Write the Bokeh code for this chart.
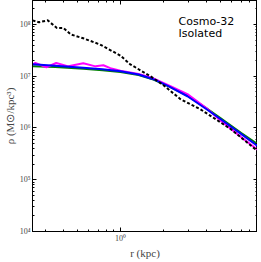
from bokeh.plotting import figure
from bokeh.models import LogAxis, Label, CustomJSTickFormatter, FixedTicker, Range1d
from bokeh.embed import file_html
from bokeh.resources import INLINE

# ---- data ----
r_dm = [0.243, 0.27, 0.31, 0.36, 0.40, 0.45, 0.55, 0.72, 1.0, 1.17, 1.62, 2.0, 2.63, 3.62, 5.88, 9.08]
rho_dm = [1.2e8, 1.1e8, 1.2e8, 8.5e7, 8.5e7, 6.4e7, 5.4e7, 4.1e7, 2.5e7, 1.7e7, 1.0e7, 6.7e6, 3.6e6, 2.3e6, 9.6e5, 3.6e5]

r_blue = [0.243, 0.35, 0.55, 0.75, 1.0, 1.34, 1.70, 2.2, 2.94, 4.0, 5.0, 7.0, 9.08]
rho_blue = [1.70e7, 1.60e7, 1.46e7, 1.36e7, 1.25e7, 1.08e7, 8.75e6, 6.3e6, 4.1e6, 2.3e6, 1.49e6, 7.6e5, 4.5e5]

r_green = [0.243, 0.35, 0.55, 0.75, 1.0, 1.34, 1.70, 2.2, 2.94, 4.0, 5.0, 7.0, 9.08]
rho_green = [1.55e7, 1.50e7, 1.40e7, 1.31e7, 1.21e7, 1.05e7, 8.6e6, 6.3e6, 4.2e6, 2.4e6, 1.55e6, 8.0e5, 4.9e5]

r_mag = [0.243, 0.254, 0.304, 0.356, 0.433, 0.55, 0.67, 0.76, 0.85, 1.0, 1.34, 1.70, 2.2, 2.94, 4.0, 5.0, 7.0, 9.08]
rho_mag = [1.68e7, 1.8e7, 1.49e7, 1.8e7, 1.55e7, 1.78e7, 1.55e7, 1.63e7, 1.43e7, 1.27e7, 1.10e7, 9.1e6, 6.6e6, 4.5e6, 2.4e6, 1.4e6, 6.6e5, 3.8e5]

x_major = [0.1, 1, 10]
x_minor = [0.2, 0.3, 0.4, 0.5, 0.6, 0.7, 0.8, 0.9, 2, 3, 4, 5, 6, 7, 8, 9]
y_major = [1e4, 1e5, 1e6, 1e7, 1e8]
y_minor = [m * 10 ** e for e in range(4, 9) for m in range(2, 10)]

labels_text = ["Cosmo-32", "Isolated"]
label_x = [2.55, 2.55]
label_y = [1.14e8, 6.6e7]
x_label = "r (kpc)"
y_label = "ρ (M⊙/kpc³)"

p = figure(frame_width=225, frame_height=231, x_axis_type="log", y_axis_type="log",
           x_range=Range1d(0.243, 9.08), y_range=Range1d(1e4, 2.9e8),
           output_backend="svg", toolbar_location=None,
           min_border_left=32, min_border_right=0, min_border_top=0, min_border_bottom=24)
p.grid.visible = False
p.outline_line_color = "black"
p.outline_line_width = 1
p.background_fill_color = "white"
p.border_fill_color = "white"

fmt = CustomJSTickFormatter(code="""
const sup = {'-':'⁻','0':'⁰','1':'¹','2':'²','3':'³','4':'⁴','5':'⁵','6':'⁶','7':'⁷','8':'⁸','9':'⁹'};
const e = Math.round(Math.log10(tick));
return '10' + String(e).split('').map(c => sup[c]).join('');
""")
blank = CustomJSTickFormatter(code="return '';")

xt = FixedTicker(ticks=x_major, minor_ticks=x_minor)
yt = FixedTicker(ticks=y_major, minor_ticks=y_minor)
p.xaxis[0].ticker = xt
p.yaxis[0].ticker = yt

for ax in [p.xaxis[0], p.yaxis[0]]:
    ax.formatter = fmt
    ax.major_tick_in = 4
    ax.major_tick_out = 0
    ax.minor_tick_in = 2
    ax.minor_tick_out = 0
    ax.axis_line_color = "black"
    ax.major_tick_line_color = "black"
    ax.minor_tick_line_color = "black"
    ax.major_label_text_font = "Liberation Serif"
    ax.major_label_text_font_size = "8px"
    ax.major_label_standoff = 2
    ax.axis_label_text_font = "Liberation Serif"
    ax.axis_label_text_font_style = "normal"
    ax.axis_label_text_font_size = "11px"
    ax.axis_label_standoff = 1

p.xaxis.axis_label = x_label
p.yaxis.axis_label = y_label

for loc, tk in [("above", xt), ("right", yt)]:
    ax = LogAxis(ticker=tk, formatter=blank, major_tick_in=4, major_tick_out=0,
                 minor_tick_in=2, minor_tick_out=0,
                 major_label_text_font_size="1px", major_label_standoff=0,
                 axis_label=None, axis_label_standoff=0, axis_line_color="black")
    p.add_layout(ax, loc)

p.line(r_green, rho_green, line_color="green", line_width=2)
p.line(r_mag, rho_mag, line_color="magenta", line_width=2)
p.line(r_blue, rho_blue, line_color="blue", line_width=2)
p.line(r_dm, rho_dm, line_color="black", line_width=2, line_dash="3 2")

for t, lx, ly in zip(labels_text, label_x, label_y):
    p.add_layout(Label(x=lx, y=ly, text=t, text_font="DejaVu Sans", text_font_size="11px",
                       text_color="black", text_baseline="alphabetic"))

open("out.html", "w").write(file_html(p, INLINE))
